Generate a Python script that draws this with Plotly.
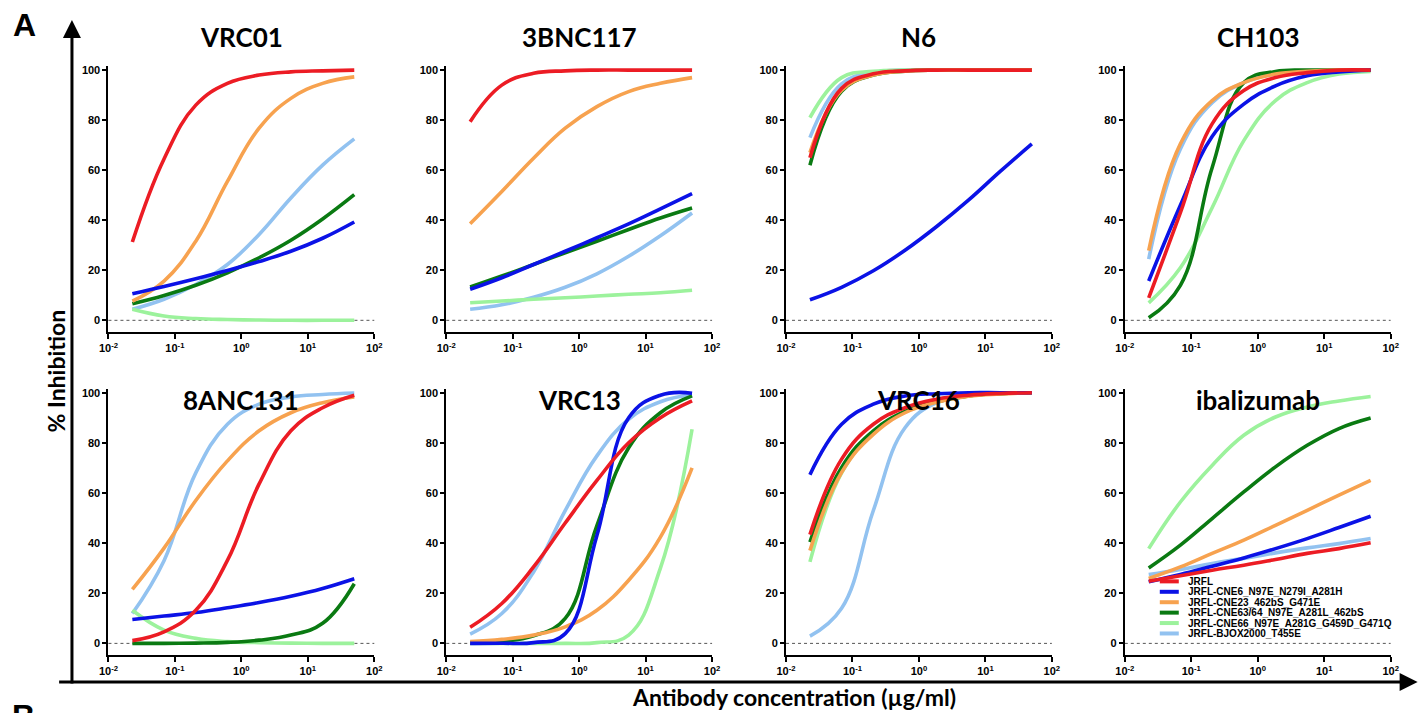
import plotly.graph_objects as go

# ---------------- data ----------------
conc = [0.0229, 0.0686, 0.206, 0.617, 1.85, 5.56, 16.7, 50]  # µg/ml, 3-fold dilutions

strains = ["JRFL", "JRFL-CNE6_N97E_N279I_A281H", "JRFL-CNE23_462bS_G471E",
           "JRFL-CNE63/64_N97E_A281L_462bS", "JRFL-CNE66_N97E_A281G_G459D_G471Q",
           "JRFL-BJOX2000_T455E"]
colors = ["#EC1C24", "#0B12E6", "#F7A24F", "#0A7A12", "#9CF29C", "#92C2F0"]

antibodies = ["VRC01", "3BNC117", "N6", "CH103", "8ANC131", "VRC13", "VRC16", "ibalizumab"]

# % inhibition, rows in strain order
vrc01 = [[31.3, 64.5, 86, 94.7, 98, 99.3, 99.7, 100],
         [10.6, 13.5, 16.6, 19.9, 23.5, 27.6, 32.8, 39.3],
         [7.7, 15.7, 31.6, 55.5, 76.8, 88.7, 94.7, 97.3],
         [6.6, 9.9, 14, 19, 25, 32, 40.5, 50.2],
         [4.4, 1.7, 0.7, 0.3, 0.1, 0, 0, 0],
         [4.4, 8.4, 14.3, 22.3, 34.3, 48.9, 62, 72.5]]
bnc117 = [[79.4, 94, 98.7, 99.7, 100, 100, 100, 100],
          [12.4, 17, 22.3, 27.6, 33, 38.5, 44.5, 50.6],
          [38.6, 51.5, 64.8, 76.8, 85.4, 91.4, 94.7, 97],
          [13.3, 17.7, 22.3, 27, 31.6, 36.3, 40.9, 44.9],
          [7, 7.7, 8.4, 9, 9.7, 10.4, 11, 12],
          [4.4, 6.2, 9.2, 13.2, 18.6, 25.6, 33.8, 42.9]]
n6 = [[65, 92.7, 98.5, 99.7, 100, 100, 100, 100],
      [8.2, 13.2, 19.8, 28, 37.5, 48, 59.5, 70.5],
      [67, 92, 98, 99.6, 100, 100, 100, 100],
      [62, 91.5, 98, 99.6, 100, 100, 100, 100],
      [81, 97, 99.5, 100, 100, 100, 100, 100],
      [73, 94.5, 99, 100, 100, 100, 100, 100]]
ch103 = [[9, 43, 78.5, 91.8, 97, 99, 100, 100],
         [15.7, 46, 73.5, 86.4, 93.7, 97.7, 99.3, 100],
         [27.9, 70.5, 87.8, 95, 98.4, 99.5, 100, 100],
         [1, 14, 61, 95, 99.4, 100, 100, 100],
         [7, 21, 45, 71.8, 87.8, 95, 98.4, 99.5],
         [24.5, 68.5, 87, 95, 98.5, 99.5, 100, 100]]
anc131 = [[1.1, 4.6, 13.2, 33.1, 63.6, 84.8, 94, 99],
          [9.5, 10.9, 12.3, 14.2, 16.3, 18.8, 21.9, 25.8],
          [21.5, 38, 57, 72.8, 84.8, 92, 96, 98.3],
          [0, 0, 0.1, 0.4, 1.3, 3.3, 8, 23.8],
          [13.2, 5.3, 2, 0.7, 0.3, 0.1, 0, 0],
          [11.9, 33, 68, 87.4, 95.4, 98.3, 99.3, 99.9]]
vrc13 = [[6.4, 15.9, 30.5, 48, 65, 80, 90, 96.7],
         [0, 0.05, 0.3, 3.9, 43, 90, 99, 99.8],
         [0.7, 1.6, 3.3, 6.6, 13.2, 25.2, 42.4, 70],
         [0.2, 0.8, 3, 10, 47, 78, 92, 98.7],
         [0, 0, 0, 0, 0.3, 3.3, 30, 85.4],
         [3.7, 11.9, 28.5, 53, 74.8, 89.4, 96.4, 99.3]]
vrc16 = [[43.4, 73.5, 87.4, 94, 97.4, 99, 99.7, 100],
         [67.3, 87.4, 95.4, 98.7, 99.6, 100, 100, 100],
         [37, 68.2, 83.4, 92, 96.2, 98.6, 99.5, 100],
         [40.4, 70.2, 84.8, 92.5, 96.4, 98.7, 99.6, 100],
         [32.5, 68, 84, 92.5, 96.5, 98.7, 99.6, 100],
         [2.9, 14, 53, 86, 96, 98.8, 99.6, 100]]
ibalizumab = [[24.8, 27, 29.2, 31.2, 33.5, 35.9, 37.8, 40.1],
              [24.6, 27.5, 30.8, 34.1, 37.8, 41.8, 46.2, 50.7],
              [25.9, 30.5, 35.9, 41.2, 47.1, 53.1, 59.1, 65],
              [30.1, 39.2, 49.8, 60.4, 70.4, 79, 85.7, 89.9],
              [37.8, 56.4, 71, 83, 90.3, 94.3, 96.7, 98.5],
              [27.5, 29.5, 31.9, 33.9, 36.1, 38.1, 39.8, 41.8]]

panels = [vrc01, bnc117, n6, ch103, anc131, vrc13, vrc16, ibalizumab]

x_tickvals = [0.01, 0.1, 1, 10, 100]
x_ticktext = ["10<sup>-2</sup>", "10<sup>-1</sup>", "10<sup>0</sup>", "10<sup>1</sup>", "10<sup>2</sup>"]
y_tickvals = [0, 20, 40, 60, 80, 100]

# ---------------- layout ----------------
W, H = 1427, 705
# map target picture pixels to paper fractions (page offset / scale measured empirically)
X0, XS, Y0 = 16.5, 0.988, 8
def fx(p): return ((p - X0) / XS) / W
def fy(p): return 1 - (p - Y0) / H

col_px = [(107, 373), (445, 711), (785, 1051), (1124, 1390)]
row_px = [(64.5, 331), (388, 655)]  # top, bottom in picture pixels
yrange = [-4.7, 101.5]

fig = go.Figure()
tickfont = dict(family="Liberation Sans, Arial", size=11, color="black", weight="bold")

layout = dict(width=W, height=H, margin=dict(l=0, r=0, t=0, b=0),
              paper_bgcolor="white", plot_bgcolor="white", showlegend=False)

for i, data in enumerate(panels):
    r, c = divmod(i, 4)
    n = "" if i == 0 else str(i + 1)
    xa, ya = "xaxis" + n, "yaxis" + n
    layout[xa] = dict(domain=[fx(col_px[c][0]), fx(col_px[c][1])], anchor="y" + n,
                      type="log", range=[-2, 2], tickvals=x_tickvals, ticktext=x_ticktext,
                      showline=True, linecolor="black", linewidth=2, ticks="outside",
                      ticklen=5, tickwidth=1.5, tickcolor="black", showgrid=False,
                      zeroline=False, tickfont=tickfont)
    layout[ya] = dict(domain=[fy(row_px[r][1]), fy(row_px[r][0])], anchor="x" + n,
                      range=yrange, tickvals=y_tickvals,
                      showline=True, linecolor="black", linewidth=2, ticks="outside",
                      ticklen=4, tickwidth=1.5, tickcolor="black", showgrid=False,
                      zeroline=False, tickfont=tickfont)
    for k in reversed(range(len(strains))):
        fig.add_trace(go.Scatter(x=conc, y=data[k], mode="lines", name=strains[k],
                                 line=dict(color=colors[k], width=3.6, shape="spline", smoothing=1.2),
                                 xaxis="x" + n, yaxis="y" + n, hoverinfo="skip"))

fig.update_layout(**layout)

shapes = []
annotations = []
for i, ab in enumerate(antibodies):
    r, c = divmod(i, 4)
    n = "" if i == 0 else str(i + 1)
    shapes.append(dict(type="line", xref="x" + n + " domain", x0=0, x1=1, yref="y" + n, y0=0, y1=0,
                       line=dict(color="#555555", width=1, dash="dot"), layer="below"))
    ty = 35 if r == 0 else 399
    annotations.append(dict(text="<b>%s</b>" % ab, xref="paper", yref="paper",
                            x=fx((col_px[c][0] + col_px[c][1]) / 2), y=fy(ty),
                            xanchor="center", yanchor="middle", showarrow=False,
                            font=dict(family="Lato, Open Sans", size=26, color="black")))

# compact legend drawn inside the ibalizumab panel
for k, s in enumerate(strains):
    yy = 581 + k * 10.45
    shapes.append(dict(type="line", xref="paper", yref="paper", x0=fx(1159), x1=fx(1178),
                       y0=fy(yy), y1=fy(yy), line=dict(color=colors[k], width=4)))
    annotations.append(dict(text="<b>%s</b>" % s, xref="paper", yref="paper", x=fx(1185), y=fy(yy),
                            xanchor="left", yanchor="middle", showarrow=False,
                            font=dict(family="Liberation Sans, Arial", size=10, color="black")))

# big axes with arrows
annotations.append(dict(xref="paper", yref="paper", x=fx(70.5), y=fy(18), ax=0, ay=665,
                        showarrow=True, arrowhead=2, arrowsize=1.2, arrowwidth=3, arrowcolor="black", text=""))
annotations.append(dict(xref="paper", yref="paper", x=fx(1417), y=fy(682), ax=-1360, ay=0,
                        showarrow=True, arrowhead=2, arrowsize=1.2, arrowwidth=3, arrowcolor="black", text=""))

annotations.append(dict(text="<b>% Inhibition</b>", xref="paper", yref="paper", x=fx(54), y=fy(370),
                        textangle=-90, showarrow=False, xanchor="center", yanchor="middle",
                        font=dict(family="Lato, Open Sans", size=23, color="black")))
annotations.append(dict(text="<b>Antibody concentration (µg/ml)</b>", xref="paper", yref="paper",
                        x=fx(793), y=fy(697), showarrow=False, xanchor="center", yanchor="middle",
                        font=dict(family="Lato, Open Sans", size=23, color="black")))
annotations.append(dict(text="<b>A</b>", xref="paper", yref="paper", x=fx(23), y=fy(23),
                        showarrow=False, xanchor="center", yanchor="middle",
                        font=dict(family="Liberation Sans, Arial", size=32, color="black")))
annotations.append(dict(text="<b>B</b>", xref="paper", yref="paper", x=fx(22), y=fy(716),
                        showarrow=False, xanchor="center", yanchor="middle",
                        font=dict(family="Liberation Sans, Arial", size=32, color="black")))

fig.update_layout(shapes=shapes, annotations=annotations)
fig.write_html("out.html")
